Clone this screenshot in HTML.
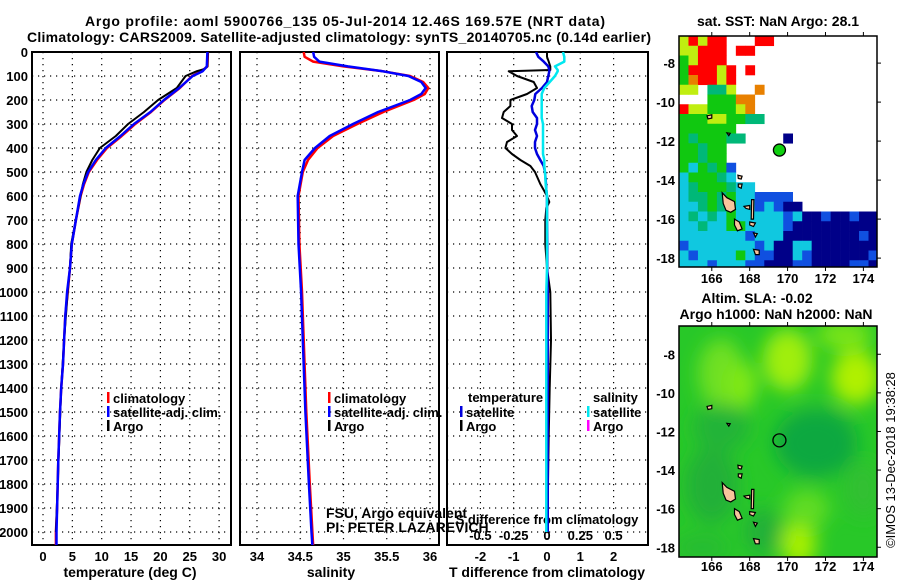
<!DOCTYPE html>
<html><head><meta charset="utf-8">
<style>
html,body{margin:0;padding:0;background:#fff;}
svg{display:block;font-family:"Liberation Sans",Arial,sans-serif;}
.b{font-weight:bold;font-size:14px;}
.t{font-weight:bold;font-size:13px;}
</style></head>
<body>
<svg id="fig" width="900" height="580" viewBox="0 0 900 580" xmlns="http://www.w3.org/2000/svg">
<defs>
<clipPath id="clipM1"><rect x="679" y="36" width="198" height="231"/></clipPath>
<clipPath id="clipM2"><rect x="679" y="326" width="198" height="231"/></clipPath>
<clipPath id="clipP1"><rect x="32" y="52" width="199" height="493"/></clipPath>
<clipPath id="clipP2"><rect x="240" y="52" width="199" height="493"/></clipPath>
<clipPath id="clipP3"><rect x="447" y="52" width="201" height="493"/></clipPath>
<filter id="blur" x="-50%" y="-50%" width="200%" height="200%"><feGaussianBlur stdDeviation="9"/></filter>
</defs>
<text class="b" x="345" y="26" text-anchor="middle" textLength="520">Argo profile: aoml 5900766_135 05-Jul-2014 12.46S 169.57E (NRT data)</text>
<text class="b" x="339" y="42" text-anchor="middle" textLength="624">Climatology: CARS2009. Satellite-adjusted climatology: synTS_20140705.nc (0.14d earlier)</text>
<text class="b" x="778" y="26" text-anchor="middle">sat. SST: NaN Argo: 28.1</text>
<text class="b" x="757" y="303" text-anchor="middle">Altim. SLA: -0.02</text>
<text class="b" x="776" y="319" text-anchor="middle">Argo h1000: NaN h2000: NaN</text>
<text x="895" y="460" font-size="13" text-anchor="middle" transform="rotate(-90 895 460)">©IMOS 13-Dec-2018 19:38:28</text>
<g id="g"></g>
</svg>
<script>
// ---------- data ----------
const depthTicks = [0,100,200,300,400,500,600,700,800,900,1000,1100,1200,1300,1400,1500,1600,1700,1800,1900,2000];
const tempTicks = [0,5,10,15,20,25,30];
const salTicks = [34,34.5,35,35.5,36];
const salTickLabels = ["34","34.5","35","35.5","36"];
const tdiffTicks = [-2,-1,0,1,2];
const sdiffTicks = [-0.5,-0.25,0,0.25,0.5];
const sdiffTickLabels = ["-0.5","-0.25","0","0.25","0.5"];

const tempDepth = [0,60,80,100,150,200,250,300,350,400,450,500,550,600,700,800,900,1000,1100,1200,1300,1400,1500,1700,1900,2000,2060];
const tempClim  = [28.1,28.0,27.0,25.4,23.3,20.7,18.4,15.7,13.4,10.9,9.2,7.8,7.0,6.4,5.6,4.9,4.6,4.2,3.8,3.6,3.4,3.1,2.9,2.6,2.4,2.2,2.2];
const tempSat   = [28.0,27.9,27.2,25.5,23.2,20.6,18.3,15.5,13.2,10.7,9.0,7.7,6.9,6.3,5.6,4.9,4.6,4.1,3.8,3.6,3.4,3.1,2.9,2.6,2.4,2.3,2.3];
const tempArgoDepth = [0,60,70,80,100,150,200,250,300,350,400,450,500,550,600,700,800,900,1000,1200,1400,1600,1800,2000];
const tempArgo  = [28.1,28.0,27.6,26.2,24.3,22.8,19.6,17.2,14.5,12.4,9.7,8.4,7.4,6.8,6.4,5.6,4.8,4.6,4.2,3.6,3.1,2.8,2.5,2.2];

const salDepth = [0,20,40,60,80,100,125,150,175,200,250,300,350,400,450,500,600,800,1000,1200,1500,1800,2000,2060];
const salClim  = [34.54,34.55,34.65,35.0,35.45,35.77,35.92,35.98,35.94,35.81,35.46,35.16,34.88,34.70,34.59,34.53,34.48,34.49,34.52,34.54,34.57,34.61,34.64,34.65];
const salSat   = [34.65,34.66,34.72,35.05,35.45,35.75,35.9,35.95,35.9,35.77,35.40,35.11,34.84,34.67,34.55,34.52,34.47,34.48,34.51,34.53,34.56,34.60,34.63,34.64];

const diffDepth = [0,20,40,60,75,80,100,125,150,175,200,225,250,275,300,325,350,375,400,425,450,475,500,550,575,600,625,650,700,800,900,1000,1200,1400,1600,1800,2000];
const tDiffArgo = [0,0,0.05,0.1,0.1,-1.15,-0.9,-0.4,-0.3,-0.6,-1.1,-1.1,-1.3,-1.35,-1.05,-1.05,-0.9,-1.2,-1.25,-1.05,-0.8,-0.5,-0.36,-0.2,-0.1,0,0.07,-0.02,-0.05,-0.05,0,0.1,0.12,0.08,0.05,0.03,0.02];
const tDiffSat  = [-0.33,-0.26,-0.1,0.04,0.07,0.07,0.04,0,-0.15,-0.35,-0.38,-0.46,-0.43,-0.3,-0.3,-0.36,-0.3,-0.36,-0.36,-0.3,-0.2,-0.1,-0.06,-0.03,-0.02,0,0,0,0,0.01,0.01,0.02,0.02,0.02,0.02,0.02,0.02];
const sDiffSat  = [0.12,0.13,0.13,0.06,0.08,0.08,0.06,0.02,-0.02,-0.04,-0.04,-0.04,-0.04,-0.04,-0.03,-0.03,-0.03,-0.03,-0.03,-0.03,-0.02,-0.02,-0.015,-0.01,-0.005,0,0,0,0,0,0,-0.005,-0.005,-0.005,-0.005,-0.005,-0.005];

const lonTicks = [166,168,170,172,174];
const latTicks = [-8,-10,-12,-14,-16,-18];
const argoLon = 169.57;
const argoLat = -12.46;
const sstRows = [
"yryrr   rr           ",
"yyrrr rr             ",
"gyrrr                ",
"grrryr r             ",
"gorryr               ",
"yy GGy  o            ",
"   gggoo             ",
"ryygggyo             ",
"gggyyggGG            ",
"gggggg               ",
"gGgggGG    n         ",
"ggGgg                ",
"ggGgg                ",
"gcgGgb               ",
"cgggGc               ",
"cGgggGcc             ",
"cGGgGgccbbbb         ",
"ccGgGgccbcbnn        ",
"cGcGcgcccccbcnnbnnbnn",
"ccGccggccccbnnnnnnnnn",
"cccccccbcccnnnnnnnnbn",
"bcccccccbcnnccnnnnnnn",
"cbccccgcbbnncbnnnnnnb",
"cccbcccbbnnnbbnnnnbbn"];
const sstColors = {r:"#ff0000",o:"#e88000",y:"#c0ee10",g:"#10c810",G:"#00b878",c:"#10c8e0",b:"#1050e0",n:"#000088"};
const islands = [
 [[166.55,-14.65],[166.8,-14.9],[167.2,-15.1],[167.25,-15.5],[167.0,-15.65],[166.75,-15.55],[166.6,-15.2]],
 [[167.2,-16.0],[167.45,-16.15],[167.6,-16.5],[167.35,-16.6],[167.2,-16.3]],
 [[168.1,-15.0],[168.22,-15.0],[168.2,-16.0],[168.08,-16.0]],
 [[167.7,-15.35],[168.0,-15.3],[168.0,-15.5],[167.8,-15.45]],
 [[168.0,-16.15],[168.3,-16.2],[168.2,-16.38],[168.0,-16.3]],
 [[168.2,-17.55],[168.5,-17.6],[168.5,-17.82],[168.3,-17.82]],
 [[168.2,-16.7],[168.4,-16.75],[168.3,-16.92]],
 [[167.4,-14.2],[167.6,-14.2],[167.55,-14.42],[167.4,-14.35]],
 [[167.38,-13.75],[167.6,-13.8],[167.55,-13.95],[167.4,-13.92]],
 [[165.75,-10.7],[166.0,-10.65],[166.0,-10.82],[165.8,-10.86]],
 [[166.8,-11.58],[166.97,-11.6],[166.9,-11.72]]
];

// ---------- helpers ----------
const NS="http://www.w3.org/2000/svg";
const root=document.getElementById('g');
function mk(tag,attrs,parent){const e=document.createElementNS(NS,tag);for(const k in attrs)e.setAttribute(k,attrs[k]);(parent||root).appendChild(e);return e;}
function txt(x,y,s,anchor,cls,parent){const t=mk('text',{x:x,y:y,'text-anchor':anchor||'middle','class':cls||'b'},parent);t.textContent=s;return t;}
const dy=d=>52+d*0.24;
const tx=t=>43+t*5.87;
const sx=s=>257+(s-34)*86.5;
const dtx=v=>547+v*33.3;
const dsx=v=>547+v*133.2;
const mx=lon=>679+(lon-164.27)*18.95;
const my1=lat=>36+(-6.61-lat)*19.5;
const my2=lat=>325.7+(-6.52-lat)*19.3;

function frameAndGrid(x0,x1,xTicks,xf,name){
  const g=mk('g',{});
  
  
  depthTicks.forEach(d=>{mk('line',{x1:x0,x2:x1,y1:dy(d),y2:dy(d),stroke:'#000','stroke-width':1.2,'stroke-dasharray':'1.2 4.8'},g);});
  xTicks.forEach(v=>{mk('line',{x1:xf(v),x2:xf(v),y1:52,y2:545,stroke:'#000','stroke-width':1.2,'stroke-dasharray':'1.2 4.8'},g);});
  const f=mk('rect',{x:x0,y:52,width:x1-x0,height:493,fill:'none',stroke:'#000','stroke-width':2});
  
  
}
function line(depths,vals,xf,color,w,clip,name,dash){
  let d='';
  for(let i=0;i<depths.length;i++){d+=(i?'L':'M')+xf(vals[i]).toFixed(1)+','+dy(depths[i]).toFixed(1);}
  const p=mk('path',{d:d,fill:'none',stroke:color,'stroke-width':w,'clip-path':'url(#'+clip+')','stroke-linejoin':'round'});
  if(dash)p.setAttribute('stroke-dasharray',dash);
  
  
}
function legend(x,y,color,label,name){
  const r=mk('rect',{x:x,y:y-11,width:2.5,height:11,fill:color});
  
  
  const t=txt(x+6,y,label,'start','t');
  
  
}

// ---------- panel 1 temperature ----------
frameAndGrid(32,231,tempTicks,tx,'temperature-panel');
depthTicks.forEach(d=>{const t=txt(28,dy(d)+5,String(d),'end','t');});
tempTicks.forEach(v=>{const t=txt(tx(v),561,String(v),'middle','t');});
let at=txt(130,577,'temperature (deg C)');
line(tempDepth,tempClim,tx,'#ff0000',2.5,'clipP1','temperature-climatology-line');
line(tempArgoDepth,tempArgo,tx,'#000000',2,'clipP1','temperature-argo-line');
line(tempDepth,tempSat,tx,'#0000ff',2.5,'clipP1','temperature-satellite-line');
legend(107,403,'#ff0000','climatology','temp-legend-climatology');
legend(107,417,'#0000ff','satellite-adj. clim.','temp-legend-satellite');
legend(107,431,'#000000','Argo','temp-legend-argo');

// ---------- panel 2 salinity ----------
frameAndGrid(240,439,salTicks,sx,'salinity-panel');
salTicks.forEach((v,i)=>{const t=txt(sx(v),561,salTickLabels[i],'middle','t');});
at=txt(331,577,'salinity');
line(salDepth,salClim,sx,'#ff0000',2.5,'clipP2','salinity-climatology-line');
line(salDepth,salSat,sx,'#0000ff',2.5,'clipP2','salinity-satellite-line');
legend(328,403,'#ff0000','climatology','sal-legend-climatology');
legend(328,417,'#0000ff','satellite-adj. clim.','sal-legend-satellite');
legend(328,431,'#000000','Argo','sal-legend-argo');
let n1=txt(326,518,'FSU, Argo equivalent','start','');n1.setAttribute('font-size','13');
let n2=txt(326,532,'PI: PETER LAZAREVICH','start','');n2.setAttribute('font-size','13');

// ---------- panel 3 differences ----------
frameAndGrid(447,648,tdiffTicks,dtx,'difference-panel');
tdiffTicks.forEach(v=>{const t=txt(dtx(v),561,String(v),'middle','t');});
sdiffTicks.forEach((v,i)=>{const t=txt(dsx(v),540,sdiffTickLabels[i],'middle','t');});
at=txt(547,524,'S difference from climatology','middle','t');
at=txt(547,577,'T difference from climatology');
line(diffDepth,tDiffArgo,dtx,'#000000',2,'clipP3','tdiff-argo-line');
line(diffDepth,tDiffSat,dtx,'#0000dd',2.5,'clipP3','tdiff-satellite-line');
line(diffDepth,sDiffSat,dsx,'#00e8f0',2.5,'clipP3','sdiff-satellite-line');
at=txt(468,402,'temperature','start','t');
at=txt(593,402,'salinity','start','t');
legend(460,417,'#0000dd','satellite','diff-legend-temp-satellite');
legend(460,431,'#000000','Argo','diff-legend-temp-argo');
legend(587,417,'#00e8f0','satellite','diff-legend-sal-satellite');
legend(587,431,'#ff00ff','Argo','diff-legend-sal-argo');

// ---------- maps ----------
function drawIslands(myf,clip,g){
  islands.forEach(poly=>{
    const pts=poly.map(p=>mx(p[0]).toFixed(1)+','+myf(p[1]).toFixed(1)).join(' ');
    const e=mk('polygon',{points:pts,fill:'#f8c49c',stroke:'#000','stroke-width':1.2,'clip-path':'url(#'+clip+')'},g);
    
    
  });
}
function mapAxes(myf,top,bot,labelY,name){
  const g=mk('g',{});
  
  
  mk('rect',{x:679,y:top,width:198,height:bot-top,fill:'none',stroke:'#000','stroke-width':1.5},g);
  lonTicks.forEach(l=>{
    mk('line',{x1:mx(l),x2:mx(l),y1:top,y2:top-4,stroke:'#000','stroke-width':1},g);
    mk('line',{x1:mx(l),x2:mx(l),y1:bot,y2:bot+4,stroke:'#000','stroke-width':1},g);
    const t=txt(mx(l),labelY,String(l),'middle','t',g);
    
    
  });
  latTicks.forEach(l=>{
    mk('line',{x1:877,x2:881,y1:myf(l),y2:myf(l),stroke:'#000','stroke-width':1},g);
    const t=txt(675,myf(l)+5,String(l),'end','t',g);
    
    
  });
}
// map 1 SST
const m1=mk('g',{'clip-path':'url(#clipM1)'});


mk('rect',{x:679,y:36,width:198,height:231,fill:'#fff'},m1);
sstRows.forEach((row,ri)=>{
  for(let ci=0;ci<row.length;ci++){
    const c=row[ci]; if(c===' ')continue;
    const lon0=164.27+ci*0.5, lat0=-6.61-ri*0.5;
    const r=mk('rect',{x:mx(lon0),y:my1(lat0),width:0.5*18.95+0.3,height:0.5*19.5+0.3,fill:sstColors[c]},m1);
    
    
  }
});
drawIslands(my1,'clipM1',m1);
let am=mk('circle',{cx:mx(argoLon),cy:my1(argoLat),r:6,fill:'#10d010',stroke:'#000','stroke-width':1.3});


mapAxes(my1,36,267,283,'sst-map');

// map 2 SLA
const m2=mk('g',{'clip-path':'url(#clipM2)'});


mk('rect',{x:679,y:326,width:198,height:231,fill:'#28c828'},m2);
const blobs=mk('g',{filter:'url(#blur)'},m2);
[[166.5,-9.0,1.2,1.8,'#70e020'],[170.0,-8.3,1.3,1.6,'#a0ee10'],[173.6,-9.2,1.3,1.4,'#b0f000'],[167.6,-9.6,0.8,1.2,'#80e818'],[170.6,-17.8,0.9,1.3,'#a8f000'],[171.0,-16.0,1.2,1.0,'#60dc20'],[173.0,-7.0,1.5,0.8,'#78e418'],
 [171.5,-12.6,2.2,1.8,'#10a840'],[166.0,-14.8,1.4,2.0,'#20b038'],[168.7,-17.2,1.0,1.2,'#20b038'],[174.0,-15.0,1.0,1.4,'#30c030'],[166.5,-11.8,1.5,1.2,'#20b438'],[165.5,-18.0,1.5,0.7,'#28bc30']
].forEach(b=>{mk('ellipse',{cx:mx(b[0]),cy:my2(b[1]),rx:b[2]*18.95,ry:b[3]*19.3,fill:b[4]},blobs);});
drawIslands(my2,'clipM2',m2);
am=mk('circle',{cx:mx(argoLon),cy:my2(argoLat),r:6.5,fill:'none',stroke:'#000','stroke-width':1.3});


mapAxes(my2,326,557,571,'sla-map');
</script>
</body></html>
